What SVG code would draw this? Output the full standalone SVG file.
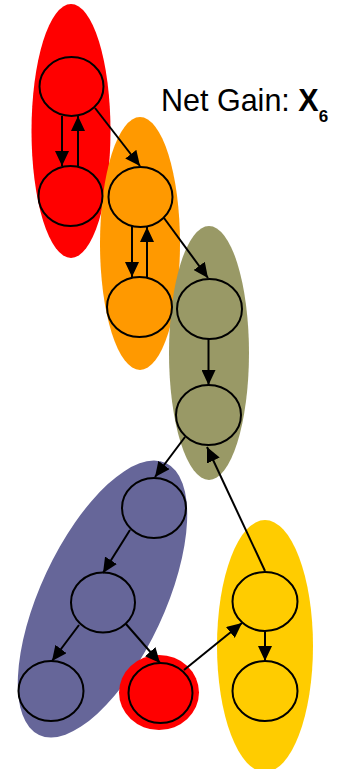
<svg xmlns="http://www.w3.org/2000/svg" width="349" height="769" viewBox="0 0 349 769">
  <style>
    .node { stroke: #000; stroke-width: 2; }
    .edge { stroke: #000; stroke-width: 2; fill: none; marker-end: url(#arrow); }
    .label { font-family: "Liberation Sans", Arial, sans-serif; fill: #000; }
  </style>
  <defs>
    <marker id="arrow" viewBox="0 0 15 14" refX="15" refY="7" markerWidth="15" markerHeight="14" markerUnits="userSpaceOnUse" orient="auto">
      <path d="M0,0 L15,7 L0,14 z" fill="#000"/>
    </marker>
  </defs>

  <rect width="349" height="769" fill="#fff"/>

  <!-- cluster backgrounds -->
  <g id="clusters">
    <ellipse cx="71" cy="131" rx="39.5" ry="127" fill="#ff0000"/>
    <ellipse cx="140" cy="243.5" rx="40" ry="126.5" fill="#ff9900"/>
    <ellipse cx="209" cy="353" rx="40" ry="127" fill="#999966"/>
    <ellipse cx="0" cy="0" rx="62" ry="150" fill="#666699" transform="translate(102.5,599) rotate(25)"/>
    <ellipse cx="159" cy="692.5" rx="40" ry="37.5" fill="#ff0000"/>
    <ellipse cx="265" cy="646" rx="48" ry="126" fill="#ffcc00"/>
  </g>

  <!-- nodes -->
  <g id="n1"><ellipse class="node" cx="71.5" cy="86.5" rx="32" ry="29.5" fill="#ff0000"/></g>
  <g id="n2"><ellipse class="node" cx="70.5" cy="196" rx="32" ry="30" fill="#ff0000"/></g>
  <g id="n3"><ellipse class="node" cx="140.5" cy="197" rx="32" ry="30" fill="#ff9900"/></g>
  <g id="n4"><ellipse class="node" cx="139.5" cy="307" rx="32.5" ry="30" fill="#ff9900"/></g>
  <g id="n5"><ellipse class="node" cx="209.5" cy="309" rx="32.5" ry="30" fill="#999966"/></g>
  <g id="n6"><ellipse class="node" cx="208.5" cy="415" rx="32.5" ry="30" fill="#999966"/></g>
  <g id="n7"><ellipse class="node" cx="154" cy="508" rx="32" ry="30" fill="#666699"/></g>
  <g id="n8"><ellipse class="node" cx="103" cy="602.5" rx="32" ry="30" fill="#666699"/></g>
  <g id="n9"><ellipse class="node" cx="51" cy="691" rx="32.5" ry="30" fill="#666699"/></g>
  <g id="n10"><ellipse class="node" cx="160.5" cy="693" rx="32" ry="30" fill="#ff0000"/></g>
  <g id="n11"><ellipse class="node" cx="265" cy="601.5" rx="32.5" ry="29.5" fill="#ffcc00"/></g>
  <g id="n12"><ellipse class="node" cx="265" cy="691" rx="32.5" ry="30" fill="#ffcc00"/></g>

  <!-- connectors -->
  <g id="edges">
    <line class="edge" x1="62" y1="116" x2="62" y2="166"/>
    <line class="edge" x1="78" y1="166" x2="78" y2="116"/>
    <line class="edge" x1="95" y1="108" x2="140" y2="166"/>
    <line class="edge" x1="132" y1="226" x2="132" y2="277"/>
    <line class="edge" x1="147" y1="277" x2="147" y2="227"/>
    <line class="edge" x1="164" y1="218" x2="208" y2="278"/>
    <line class="edge" x1="208.5" y1="339" x2="208.5" y2="385"/>
    <line class="edge" x1="185" y1="437" x2="155" y2="477"/>
    <line class="edge" x1="265" y1="571" x2="207" y2="447"/>
    <line class="edge" x1="130" y1="530" x2="103" y2="573"/>
    <line class="edge" x1="79" y1="625" x2="52" y2="661"/>
    <line class="edge" x1="126" y1="624" x2="160" y2="663"/>
    <line class="edge" x1="184" y1="670" x2="242" y2="623"/>
    <line class="edge" x1="265" y1="631" x2="265" y2="661"/>
  </g>

  <!-- caption -->
  <text class="label" x="161" y="111" font-size="30.5">Net Gain: <tspan font-weight="bold">X</tspan><tspan font-weight="bold" font-size="17" dy="11">6</tspan></text>
</svg>
